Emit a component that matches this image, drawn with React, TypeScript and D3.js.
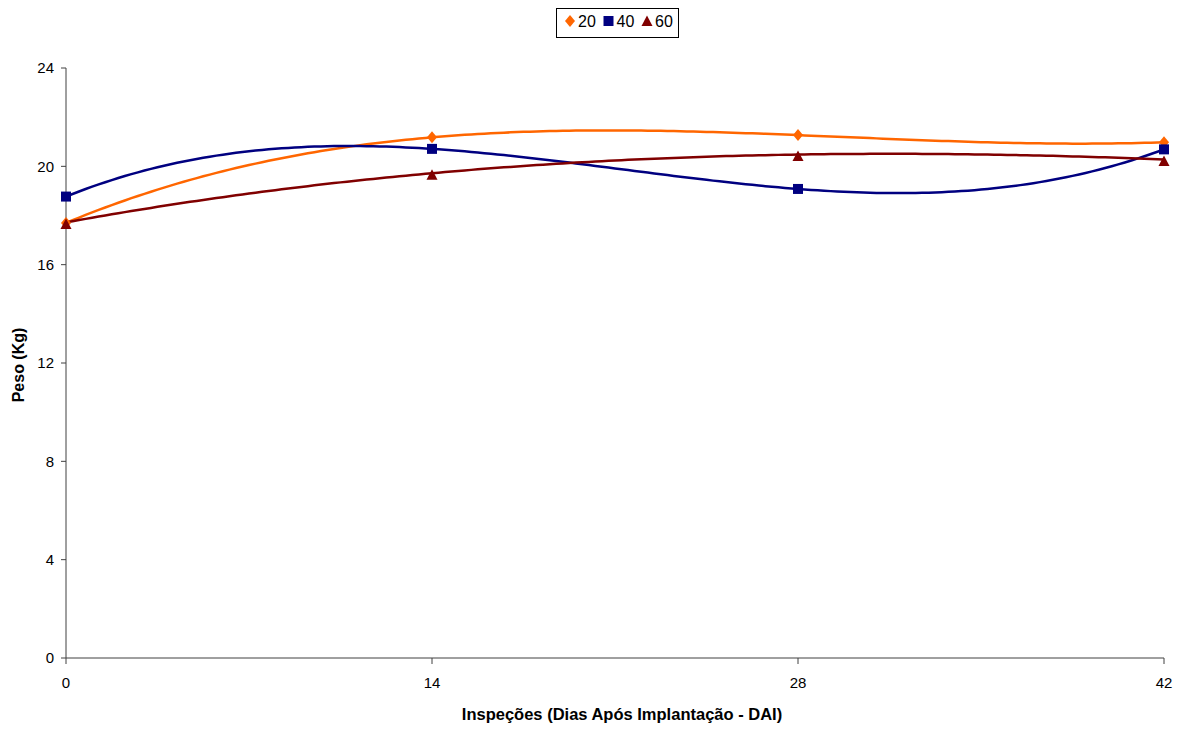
import React from "react";
import * as d3 from "d3";

// Inspection days and weight per treatment
const days = [0, 14, 28, 42];
const series20 = [17.7, 21.18, 21.27, 20.98];
const series40 = [18.77, 20.71, 19.08, 20.69];
const series60 = [17.72, 19.72, 20.48, 20.28];
const yTicks = [0, 4, 8, 12, 16, 20, 24];
const seriesNames = ["20", "40", "60"];

const W = 1183;
const H = 729;
const margin = { left: 66, right: 19, top: 68, bottom: 71 };

const colors = ["#FF6600", "#000080", "#800000"];

// Cubic polynomial through the four points (Lagrange form)
function cubicThrough(xs: number[], ys: number[]) {
  return (x: number) => {
    let s = 0;
    for (let i = 0; i < xs.length; i++) {
      let l = 1;
      for (let j = 0; j < xs.length; j++) {
        if (j !== i) l *= (x - xs[j]) / (xs[i] - xs[j]);
      }
      s += ys[i] * l;
    }
    return s;
  };
}

// Marker outlines centred on the point
const markerPath = (i: number) => {
  if (i === 0) return "M0,-6L5,0L0,6L-5,0Z";
  if (i === 1) return "M-5,-5H5V5H-5Z";
  return "M0,-5.5L5.5,5L-5.5,5Z";
};

export default function App() {
  const x = d3.scaleLinear().domain([0, 42]).range([margin.left, W - margin.right]);
  const y = d3.scaleLinear().domain([0, 24]).range([H - margin.bottom, margin.top]);
  const all = [series20, series40, series60];
  const samples = d3.range(0, 42.01, 0.25);
  const line = d3
    .line<[number, number]>()
    .x((d) => x(d[0]))
    .y((d) => y(d[1]));

  const font = "Liberation Sans, Arial, sans-serif";

  return (
    <svg
      width={W}
      height={H}
      style={{ position: "absolute", left: 0, top: 0, background: "#fff" }}
      fontFamily={font}
    >
      {/* axes */}
      <line x1={x(0)} x2={x(0)} y1={y(0)} y2={y(24)} stroke="#404040" strokeWidth={1} />
      <line x1={x(0)} x2={x(42)} y1={y(0)} y2={y(0)} stroke="#404040" strokeWidth={1} />
      {yTicks.map((t) => (
        <g key={"y" + t}>
          <line x1={x(0) - 5} x2={x(0)} y1={y(t)} y2={y(t)} stroke="#404040" />
          <text x={x(0) - 12} y={y(t)} dy="0.35em" textAnchor="end" fontSize={15} fill="#000">
            {t}
          </text>
        </g>
      ))}
      {days.map((t) => (
        <g key={"x" + t}>
          <line x1={x(t)} x2={x(t)} y1={y(0)} y2={y(0) + 6} stroke="#404040" />
          <text x={x(t)} y={y(0) + 25} dy="0.35em" textAnchor="middle" fontSize={15} fill="#000">
            {t}
          </text>
        </g>
      ))}

      {/* fitted curves */}
      {all.map((vals, i) => {
        const f = cubicThrough(days, vals);
        const pts = samples.map((d) => [d, f(d)] as [number, number]);
        return (
          <path key={"l" + i} d={line(pts) as string} fill="none" stroke={colors[i]} strokeWidth={2.5} />
        );
      })}

      {/* markers */}
      {all.map((vals, i) =>
        vals.map((v, k) => (
          <path
            key={"m" + i + "-" + k}
            d={markerPath(i)}
            transform={`translate(${x(days[k])},${y(v) + (i === 2 ? 1.5 : 0)})`}
            fill={colors[i]}
          />
        ))
      )}

      {/* axis titles */}
      <text
        x={x(21) + 7}
        y={714}
        dy="0.35em"
        textAnchor="middle"
        fontSize={16.5}
        fontWeight="bold"
      >
        Inspeções (Dias Após Implantação - DAI)
      </text>
      <text
        transform={`translate(18,${y(12) + 2}) rotate(-90)`}
        dy="0.35em"
        textAnchor="middle"
        fontSize={16}
        fontWeight="bold"
      >
        Peso (Kg)
      </text>

      {/* legend */}
      <rect x={556.5} y={8.5} width={122} height={29} fill="#fff" stroke="#000" strokeWidth={1} />
      {seriesNames.map((n, i) => (
        <g key={"lg" + i} transform={`translate(${570 + i * 38.5},21)`}>
          <path d={markerPath(i)} fill={colors[i]} />
          <text x={8} dy="0.35em" fontSize={16} fill="#000">
            {n}
          </text>
        </g>
      ))}
    </svg>
  );
}
